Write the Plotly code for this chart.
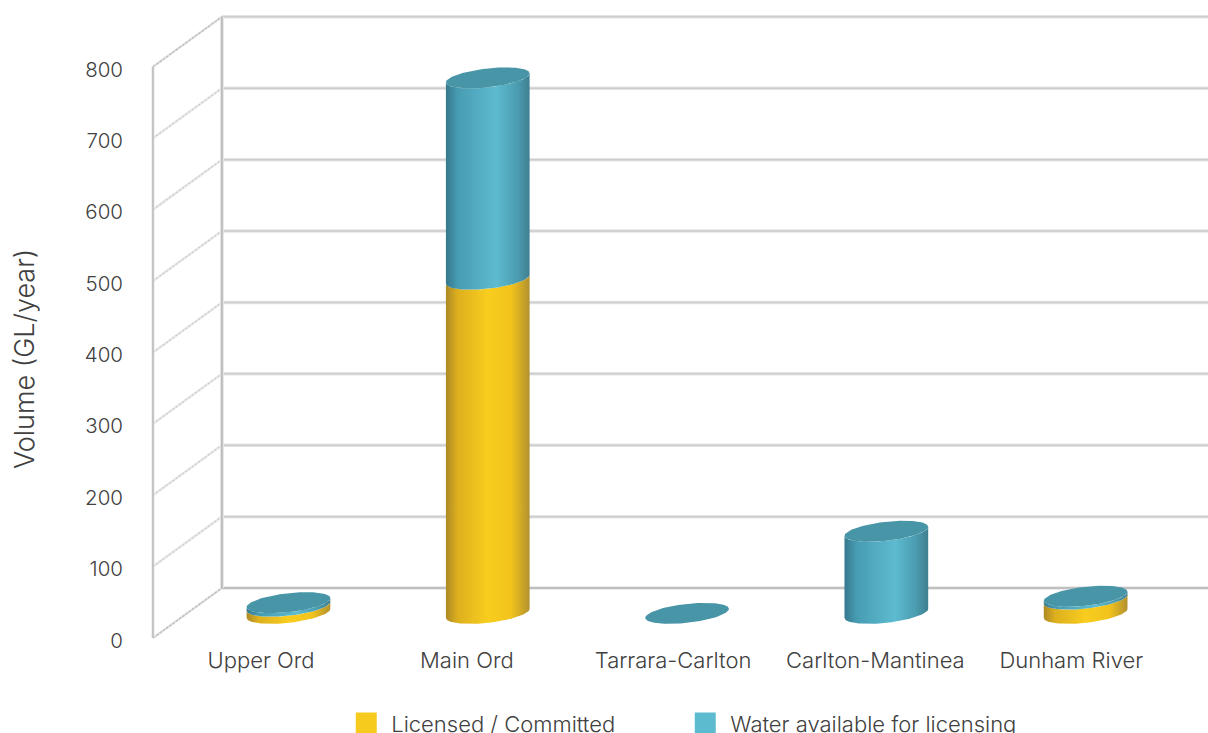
import numpy as np
import plotly.graph_objects as go

categories = ["Upper Ord", "Main Ord", "Tarrara-Carlton", "Carlton-Mantinea", "Dunham River"]
licensed = [10, 468, 0, 0, 20]
water = [5, 282, 0, 115, 4]
y_ticks = [0, 100, 200, 300, 400, 500, 600, 700, 800]

# 3D look: projection constants, in axis units
DEPTH_Y = 70
DEPTH_X = 0.346
FLOOR = 34.5
RX, RY, TILT = 0.21, 13.3, 6.3
LABEL_SHIFT = [-0.138, -0.105, -0.07, -0.055, -0.072]
TICK_NUDGE = 3.5
X_RANGE = [-0.745, 4.614]
Y_RANGE = [-9.8, 893.6]
WALL_X = -0.68

YELLOW = "#F7CB1E"
BLUE = "#5DBBD0"
TOP = "#4795A6"
YELLOW_SCALE = [[0, "#AD8A24"], [0.14, "#DDB01E"], [0.5, "#F8CD1E"], [0.78, "#F2C31C"], [1, "#B3922F"]]
BLUE_SCALE = [[0, "#35788C"], [0.14, "#479CB2"], [0.6, "#5DBBD0"], [0.85, "#4B9DB0"], [1, "#3F7F90"]]
TEXT = "#404040"
FONT = "Inter"

fig = go.Figure()


def wall(xs, ys, color, width, dash="solid"):
    fig.add_trace(go.Scatter(x=xs, y=ys, mode="lines", line=dict(color=color, width=width, dash=dash),
                             showlegend=False, hoverinfo="skip"))


back_x = WALL_X + DEPTH_X
# back wall gridlines, double stroked
for v in y_ticks:
    wall([back_x, X_RANGE[1]], [v + DEPTH_Y] * 2, "#E4E4E4", 3.5)
    wall([back_x, X_RANGE[1]], [v + DEPTH_Y] * 2, "#B4B4B4" if v == 0 else "#CDCDCD", 1.5)
# side wall slants
for v in y_ticks:
    top_or_floor = v in (0, 800)
    wall([WALL_X, back_x], [v, v + DEPTH_Y], "#E8E8E8", 2.5)
    wall([WALL_X, back_x], [v, v + DEPTH_Y], "#BDBDBD" if top_or_floor else "#CFCFCF", 1.3,
         "3px,1px" if top_or_floor else "2px,2px")
# verticals
wall([WALL_X, WALL_X], [0, 800], "#E4E4E4", 3)
wall([WALL_X, WALL_X], [0, 800], "#BBBBBB", 1.5)
wall([back_x, back_x], [DEPTH_Y, 800 + DEPTH_Y], "#E6E6E6", 4)
wall([back_x, back_x], [DEPTH_Y, 800 + DEPTH_Y], "#B4B4B4", 1.5)

t_front = np.linspace(np.pi, 2 * np.pi, 60)
t_full = np.linspace(0, 2 * np.pi, 121)


def rim(i, level, t):
    return i + RX * np.cos(t), level + TILT * np.cos(t) + RY * np.sin(t)


def side(i, v0, v1, scale, color):
    xa, ya = rim(i, v0, t_front)
    xb, yb = rim(i, v1, t_front[::-1])
    fig.add_trace(go.Scatter(
        x=np.concatenate([xa, xb]), y=np.concatenate([ya, yb]), mode="lines", fill="toself",
        line=dict(width=0), fillcolor=color,
        fillgradient=dict(type="horizontal", colorscale=scale),
        showlegend=False, hoverinfo="skip"))


for i in range(len(categories)):
    lo = FLOOR
    mid = lo + licensed[i]
    hi = mid + water[i]
    if licensed[i] > 0:
        side(i, lo, mid, YELLOW_SCALE, YELLOW)
    if water[i] > 0:
        side(i, mid, hi, BLUE_SCALE, BLUE)
    tx, ty = rim(i, hi, t_full)
    fig.add_trace(go.Scatter(x=tx, y=ty, mode="lines", fill="toself", fillcolor=TOP,
                             line=dict(width=0),
                             showlegend=False, hoverinfo="skip"))

# legend entries
for name, color in (("Licensed / Committed", YELLOW), ("Water available for licensing", BLUE)):
    fig.add_trace(go.Scatter(x=[None], y=[None], mode="markers", name=name,
                             marker=dict(symbol="square", size=16, color=color, line=dict(color=color, width=5))))

fig.update_layout(
    width=1208, height=733,
    margin=dict(l=140, r=0, t=0, b=88),
    paper_bgcolor="white", plot_bgcolor="white",
    font=dict(family=FONT, size=22, color=TEXT, weight=300),
    hovermode=False,
    legend=dict(orientation="h", x=0.2825, xanchor="left", y=0.042, yanchor="top", xref="container",
                yref="container", entrywidth=284, entrywidthmode="pixels", itemsizing="trace", itemwidth=40,
                font=dict(family=FONT, size=22, color=TEXT, weight=300)),
    xaxis=dict(range=X_RANGE, tickmode="array",
               tickvals=[i + s for i, s in enumerate(LABEL_SHIFT)], ticktext=categories,
               showgrid=False, zeroline=False, showline=False, ticks="", ticklabelstandoff=0,
               tickangle=0, fixedrange=True),
    yaxis=dict(range=Y_RANGE, tickmode="array", tickvals=[v - TICK_NUDGE for v in y_ticks],
               ticktext=[str(v) for v in y_ticks], tickfont=dict(size=20.5),
               showgrid=False, zeroline=False, showline=False, ticks="", ticklabelstandoff=16,
               fixedrange=True),
    annotations=[dict(text="Volume (GL/year)", textangle=-90, showarrow=False,
                      xref="paper", yref="paper", x=-115 / 1068, y=286 / 645,
                      xanchor="center", yanchor="middle",
                      font=dict(family=FONT, size=27, color=TEXT, weight=300))],
)

fig.write_html("out.html", config={"displayModeBar": False},
               post_script="document.body.style.margin='0';")
